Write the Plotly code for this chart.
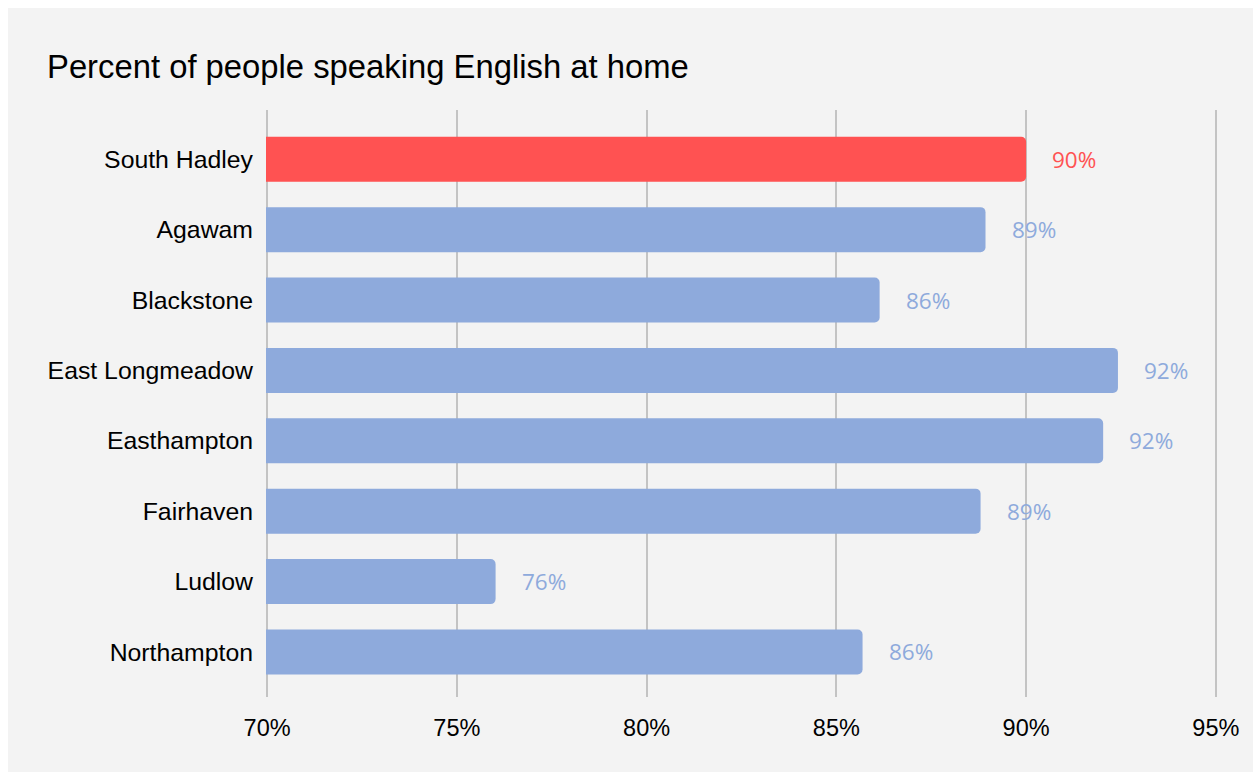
import plotly.graph_objects as go

# Share of residents who speak English at home, by town
towns = ["South Hadley", "Agawam", "Blackstone", "East Longmeadow",
         "Easthampton", "Fairhaven", "Ludlow", "Northampton"]
pct_english = [90.0, 88.93, 86.14, 92.42, 92.03, 88.8, 76.02, 85.69]
highlight_town = "South Hadley"
x_ticks = [70, 75, 80, 85, 90, 95]
x_tick_labels = ["70%", "75%", "80%", "85%", "90%", "95%"]

RED = "#ff5252"
BLUE = "#8eaadc"
BG = "#f3f3f3"

colors = [RED if t == highlight_town else BLUE for t in towns]

fig = go.Figure(
    go.Bar(
        x=pct_english,
        y=towns,
        orientation="h",
        marker=dict(color=colors, line=dict(width=0), cornerradius=5),
        width=0.64,
        hoverinfo="skip",
    )
)

# value labels to the right of each bar
for t, v, c in zip(towns, pct_english, colors):
    fig.add_annotation(
        x=v, y=t, xref="x", yref="y",
        text=f"{v:.0f}%", showarrow=False,
        xanchor="left", yanchor="middle", xshift=24,
        font=dict(family="Open Sans", size=22.5, color=c),
    )

W, H = 1253, 772
ML, MR, MT, MB = 266, 36, 110, 75
pw, ph = W - ML - MR, H - MT - MB

# grey card behind the chart
fig.add_shape(
    type="rect", xref="paper", yref="paper", layer="below",
    x0=(8 - ML) / pw, x1=(W - ML) / pw,
    y0=-MB / ph, y1=(H - MB - 8) / ph,
    fillcolor=BG, line=dict(width=0),
)

fig.update_layout(
    width=W, height=H,
    margin=dict(l=ML, r=MR, t=MT, b=MB, pad=0),
    paper_bgcolor="white",
    plot_bgcolor=BG,
    showlegend=False,
    title=dict(
        text="Percent of people speaking English at home",
        x=47 / W, xref="container", xanchor="left",
        y=1 - 67 / H, yref="container", yanchor="middle",
        font=dict(family="Liberation Sans", size=32.8, color="#000000"),
    ),
    xaxis=dict(
        range=[69.97, 95.03],
        tickvals=x_ticks, ticktext=x_tick_labels,
        showgrid=True, gridcolor="#c3c3c3", gridwidth=2,
        zeroline=False, showline=False,
        ticks="outside", ticklen=10, tickcolor="rgba(0,0,0,0)",
        tickfont=dict(family="Liberation Sans", size=23.5, color="#000000"),
    ),
    yaxis=dict(
        categoryorder="array", categoryarray=towns,
        range=[len(towns) - 1 + 0.64, -0.70],
        showgrid=False, zeroline=False, showline=False,
        ticks="", ticklabelstandoff=12,
        tickfont=dict(family="Liberation Sans", size=24.8, color="#000000"),
    ),
)

fig.write_html("out.html")
